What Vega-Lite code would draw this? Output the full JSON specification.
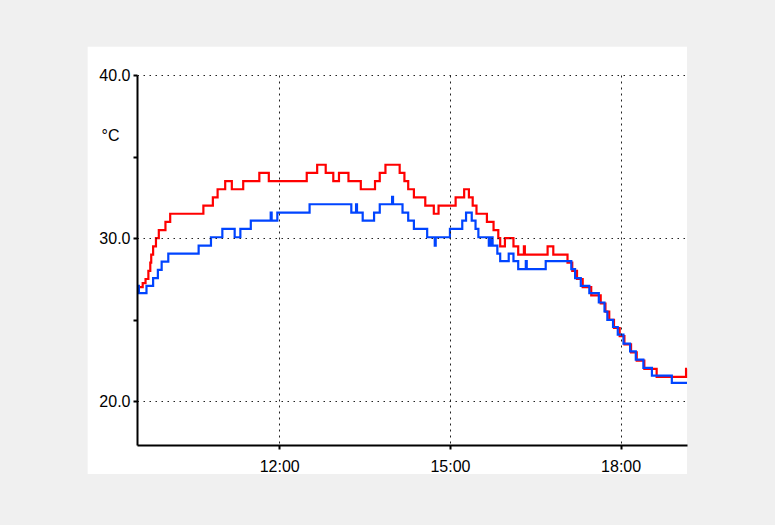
{
  "$schema": "https://vega.github.io/schema/vega-lite/v6.json",
  "width": 550,
  "height": 370,
  "autosize": {"type": "none"},
  "padding": {"left": 137, "top": 75, "right": 88, "bottom": 80},
  "background": "#f0f0f0",
  "config": {"view": {"stroke": null}, "font": "Liberation Sans"},
  "datasets": {
    "temps": [
      {"s": "R", "t": "2024-07-15T09:30", "v": 27.0},
      {"s": "R", "t": "2024-07-15T09:36", "v": 27.25},
      {"s": "R", "t": "2024-07-15T09:39", "v": 27.5},
      {"s": "R", "t": "2024-07-15T09:42", "v": 28.0},
      {"s": "R", "t": "2024-07-15T09:44", "v": 28.5},
      {"s": "R", "t": "2024-07-15T09:45", "v": 29.0},
      {"s": "R", "t": "2024-07-15T09:47", "v": 29.5},
      {"s": "R", "t": "2024-07-15T09:50", "v": 30.0},
      {"s": "R", "t": "2024-07-15T09:53", "v": 30.5},
      {"s": "R", "t": "2024-07-15T10:00", "v": 31.0},
      {"s": "R", "t": "2024-07-15T10:05", "v": 31.5},
      {"s": "R", "t": "2024-07-15T10:40", "v": 32.0},
      {"s": "R", "t": "2024-07-15T10:50", "v": 32.5},
      {"s": "R", "t": "2024-07-15T10:55", "v": 33.0},
      {"s": "R", "t": "2024-07-15T11:03", "v": 33.5},
      {"s": "R", "t": "2024-07-15T11:10", "v": 33.0},
      {"s": "R", "t": "2024-07-15T11:22", "v": 33.5},
      {"s": "R", "t": "2024-07-15T11:39", "v": 34.0},
      {"s": "R", "t": "2024-07-15T11:49", "v": 33.5},
      {"s": "R", "t": "2024-07-15T12:29", "v": 34.0},
      {"s": "R", "t": "2024-07-15T12:40", "v": 34.5},
      {"s": "R", "t": "2024-07-15T12:49", "v": 34.0},
      {"s": "R", "t": "2024-07-15T12:57", "v": 33.5},
      {"s": "R", "t": "2024-07-15T13:03", "v": 34.0},
      {"s": "R", "t": "2024-07-15T13:13", "v": 33.5},
      {"s": "R", "t": "2024-07-15T13:26", "v": 33.0},
      {"s": "R", "t": "2024-07-15T13:41", "v": 33.5},
      {"s": "R", "t": "2024-07-15T13:46", "v": 34.0},
      {"s": "R", "t": "2024-07-15T13:52", "v": 34.5},
      {"s": "R", "t": "2024-07-15T14:07", "v": 34.0},
      {"s": "R", "t": "2024-07-15T14:12", "v": 33.5},
      {"s": "R", "t": "2024-07-15T14:16", "v": 33.0},
      {"s": "R", "t": "2024-07-15T14:22", "v": 32.5},
      {"s": "R", "t": "2024-07-15T14:34", "v": 32.0},
      {"s": "R", "t": "2024-07-15T14:43", "v": 31.5},
      {"s": "R", "t": "2024-07-15T14:48", "v": 32.0},
      {"s": "R", "t": "2024-07-15T15:06", "v": 32.5},
      {"s": "R", "t": "2024-07-15T15:15", "v": 33.0},
      {"s": "R", "t": "2024-07-15T15:20", "v": 32.5},
      {"s": "R", "t": "2024-07-15T15:24", "v": 32.0},
      {"s": "R", "t": "2024-07-15T15:28", "v": 31.5},
      {"s": "R", "t": "2024-07-15T15:39", "v": 31.0},
      {"s": "R", "t": "2024-07-15T15:46", "v": 30.5},
      {"s": "R", "t": "2024-07-15T15:51", "v": 30.0},
      {"s": "R", "t": "2024-07-15T15:53", "v": 29.5},
      {"s": "R", "t": "2024-07-15T15:58", "v": 30.0},
      {"s": "R", "t": "2024-07-15T16:07", "v": 29.5},
      {"s": "R", "t": "2024-07-15T16:12", "v": 29.0},
      {"s": "R", "t": "2024-07-15T16:18", "v": 29.5},
      {"s": "R", "t": "2024-07-15T16:19", "v": 29.0},
      {"s": "R", "t": "2024-07-15T16:43", "v": 29.5},
      {"s": "R", "t": "2024-07-15T16:49", "v": 29.0},
      {"s": "R", "t": "2024-07-15T17:04", "v": 28.5},
      {"s": "R", "t": "2024-07-15T17:09", "v": 28.0},
      {"s": "R", "t": "2024-07-15T17:14", "v": 27.5},
      {"s": "R", "t": "2024-07-15T17:20", "v": 27.0},
      {"s": "R", "t": "2024-07-15T17:29", "v": 26.5},
      {"s": "R", "t": "2024-07-15T17:39", "v": 26.0},
      {"s": "R", "t": "2024-07-15T17:44", "v": 25.5},
      {"s": "R", "t": "2024-07-15T17:48", "v": 25.0},
      {"s": "R", "t": "2024-07-15T17:53", "v": 24.5},
      {"s": "R", "t": "2024-07-15T17:59", "v": 24.0},
      {"s": "R", "t": "2024-07-15T18:04", "v": 23.5},
      {"s": "R", "t": "2024-07-15T18:11", "v": 23.0},
      {"s": "R", "t": "2024-07-15T18:17", "v": 22.5},
      {"s": "R", "t": "2024-07-15T18:25", "v": 22.0},
      {"s": "R", "t": "2024-07-15T18:38", "v": 21.5},
      {"s": "R", "t": "2024-07-15T19:09", "v": 22.0},
      {"s": "R", "t": "2024-07-15T19:10", "v": 22.0},
      {"s": "B", "t": "2024-07-15T09:30", "v": 27.08},
      {"s": "B", "t": "2024-07-15T09:32", "v": 26.64},
      {"s": "B", "t": "2024-07-15T09:40", "v": 27.08},
      {"s": "B", "t": "2024-07-15T09:47", "v": 27.56},
      {"s": "B", "t": "2024-07-15T09:52", "v": 28.06},
      {"s": "B", "t": "2024-07-15T09:56", "v": 28.57},
      {"s": "B", "t": "2024-07-15T10:03", "v": 29.06},
      {"s": "B", "t": "2024-07-15T10:35", "v": 29.55},
      {"s": "B", "t": "2024-07-15T10:48", "v": 30.06},
      {"s": "B", "t": "2024-07-15T11:00", "v": 30.57},
      {"s": "B", "t": "2024-07-15T11:13", "v": 30.06},
      {"s": "B", "t": "2024-07-15T11:19", "v": 30.57},
      {"s": "B", "t": "2024-07-15T11:30", "v": 31.08},
      {"s": "B", "t": "2024-07-15T11:51", "v": 31.57},
      {"s": "B", "t": "2024-07-15T11:52", "v": 31.08},
      {"s": "B", "t": "2024-07-15T11:58", "v": 31.57},
      {"s": "B", "t": "2024-07-15T12:32", "v": 32.08},
      {"s": "B", "t": "2024-07-15T13:16", "v": 31.57},
      {"s": "B", "t": "2024-07-15T13:21", "v": 32.08},
      {"s": "B", "t": "2024-07-15T13:22", "v": 31.57},
      {"s": "B", "t": "2024-07-15T13:28", "v": 31.08},
      {"s": "B", "t": "2024-07-15T13:40", "v": 31.57},
      {"s": "B", "t": "2024-07-15T13:46", "v": 32.08},
      {"s": "B", "t": "2024-07-15T13:59", "v": 32.54},
      {"s": "B", "t": "2024-07-15T14:00", "v": 32.08},
      {"s": "B", "t": "2024-07-15T14:10", "v": 31.57},
      {"s": "B", "t": "2024-07-15T14:16", "v": 31.08},
      {"s": "B", "t": "2024-07-15T14:22", "v": 30.57},
      {"s": "B", "t": "2024-07-15T14:36", "v": 30.06},
      {"s": "B", "t": "2024-07-15T14:44", "v": 29.55},
      {"s": "B", "t": "2024-07-15T14:45", "v": 30.06},
      {"s": "B", "t": "2024-07-15T15:00", "v": 30.57},
      {"s": "B", "t": "2024-07-15T15:13", "v": 31.08},
      {"s": "B", "t": "2024-07-15T15:17", "v": 31.57},
      {"s": "B", "t": "2024-07-15T15:23", "v": 31.08},
      {"s": "B", "t": "2024-07-15T15:27", "v": 30.57},
      {"s": "B", "t": "2024-07-15T15:30", "v": 30.06},
      {"s": "B", "t": "2024-07-15T15:41", "v": 29.55},
      {"s": "B", "t": "2024-07-15T15:42", "v": 30.06},
      {"s": "B", "t": "2024-07-15T15:43", "v": 29.55},
      {"s": "B", "t": "2024-07-15T15:44", "v": 30.06},
      {"s": "B", "t": "2024-07-15T15:45", "v": 29.55},
      {"s": "B", "t": "2024-07-15T15:50", "v": 29.06},
      {"s": "B", "t": "2024-07-15T15:53", "v": 28.6},
      {"s": "B", "t": "2024-07-15T16:02", "v": 29.06},
      {"s": "B", "t": "2024-07-15T16:07", "v": 28.6},
      {"s": "B", "t": "2024-07-15T16:12", "v": 28.1},
      {"s": "B", "t": "2024-07-15T16:20", "v": 28.6},
      {"s": "B", "t": "2024-07-15T16:21", "v": 28.1},
      {"s": "B", "t": "2024-07-15T16:41", "v": 28.6},
      {"s": "B", "t": "2024-07-15T17:08", "v": 28.1},
      {"s": "B", "t": "2024-07-15T17:12", "v": 27.56},
      {"s": "B", "t": "2024-07-15T17:18", "v": 27.08},
      {"s": "B", "t": "2024-07-15T17:27", "v": 26.64},
      {"s": "B", "t": "2024-07-15T17:37", "v": 26.06},
      {"s": "B", "t": "2024-07-15T17:43", "v": 25.51},
      {"s": "B", "t": "2024-07-15T17:46", "v": 25.0},
      {"s": "B", "t": "2024-07-15T17:52", "v": 24.56},
      {"s": "B", "t": "2024-07-15T17:57", "v": 24.09},
      {"s": "B", "t": "2024-07-15T18:03", "v": 23.54},
      {"s": "B", "t": "2024-07-15T18:10", "v": 23.07},
      {"s": "B", "t": "2024-07-15T18:16", "v": 22.56},
      {"s": "B", "t": "2024-07-15T18:24", "v": 22.05},
      {"s": "B", "t": "2024-07-15T18:33", "v": 21.58},
      {"s": "B", "t": "2024-07-15T18:54", "v": 21.14},
      {"s": "B", "t": "2024-07-15T19:10", "v": 21.14}
    ]
  },
  "layer": [
    {
      "data": {"values": [{}]},
      "mark": {"type": "rect", "fill": "#ffffff", "clip": false},
      "encoding": {
        "x": {"datum": {"year": 2024, "month": 7, "date": 15, "hours": 8, "minutes": 38}, "type": "temporal"},
        "x2": {"datum": {"year": 2024, "month": 7, "date": 15, "hours": 19, "minutes": 10}},
        "y": {"datum": 41.73, "type": "quantitative"},
        "y2": {"datum": 15.55}
      }
    },
    {
      "data": {"name": "temps"},
      "transform": [{"filter": "datum.s === 'R'"}],
      "mark": {"type": "line", "interpolate": "step-after", "stroke": "#ff0000", "strokeWidth": 2.2},
      "encoding": {
        "x": {
          "field": "t", "type": "temporal",
          "scale": {"domain": [{"year": 2024, "month": 7, "date": 15, "hours": 9, "minutes": 30}, {"year": 2024, "month": 7, "date": 15, "hours": 19, "minutes": 10}]},
          "axis": {
            "values": [
              {"year": 2024, "month": 7, "date": 15, "hours": 12},
              {"year": 2024, "month": 7, "date": 15, "hours": 15},
              {"year": 2024, "month": 7, "date": 15, "hours": 18}
            ],
            "format": "%H:%M", "grid": true, "gridDash": [2, 4], "gridColor": "#222", "gridWidth": 1,
            "domainColor": "#000", "domainWidth": 2, "tickColor": "#000", "tickWidth": 2, "tickSize": 4,
            "labelFontSize": 16, "labelColor": "#000", "labelPadding": 9, "labelFlush": false,
            "title": null, "zindex": 1
          }
        },
        "y": {
          "field": "v", "type": "quantitative",
          "scale": {"domain": [17.33, 40], "nice": false, "zero": false},
          "axis": {
            "values": [20, 25, 30, 35, 40],
            "labelExpr": "datum.value % 10 === 0 ? format(datum.value, '.1f') : ''",
            "grid": true,
            "gridOpacity": {"condition": {"test": "datum.value % 10 === 0", "value": 1}, "value": 0},
            "gridDash": [1.5, 4.5], "gridColor": "#222", "gridWidth": 1,
            "domainColor": "#000", "domainWidth": 2, "tickColor": "#000", "tickWidth": 2, "tickSize": 4,
            "labelFontSize": 16, "labelColor": "#000", "labelPadding": 3, "labelFlush": false, "labelOverlap": false,
            "title": "°C", "titleAngle": 0, "titleAlign": "center", "titleBaseline": "middle",
            "titleX": -27, "titleY": 60, "titleFontSize": 16, "titleFontWeight": "normal", "titleColor": "#000",
            "zindex": 1
          }
        }
      }
    },
    {
      "data": {"name": "temps"},
      "transform": [{"filter": "datum.s === 'B'"}],
      "mark": {"type": "line", "interpolate": "step-after", "stroke": "#0044ff", "strokeWidth": 2.2},
      "encoding": {
        "x": {"field": "t", "type": "temporal"},
        "y": {"field": "v", "type": "quantitative"}
      }
    }
  ]
}
